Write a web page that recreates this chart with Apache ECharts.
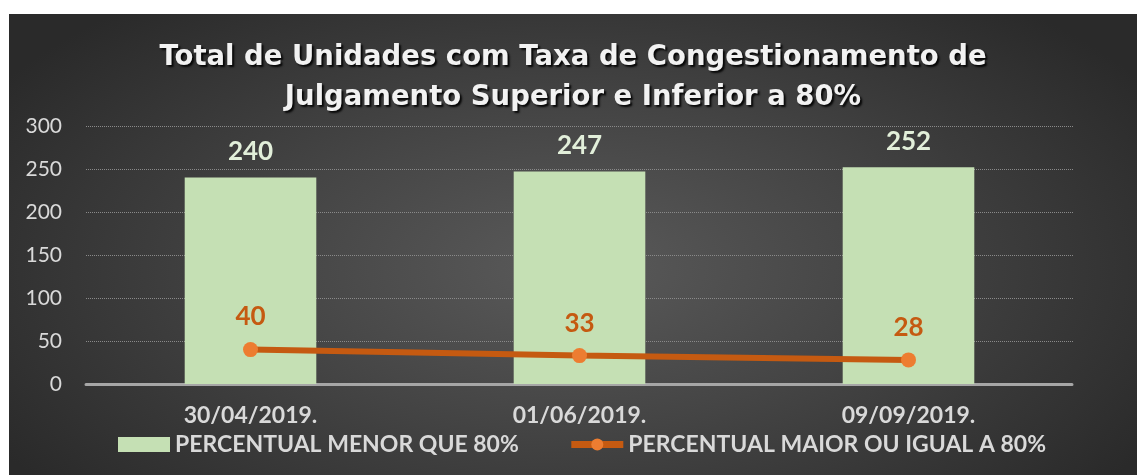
<!DOCTYPE html>
<html>
<head>
<meta charset="utf-8">
<script src="https://cdn.jsdelivr.net/npm/echarts@6/dist/echarts.min.js"></script>
<style>
  html, body { margin: 0; padding: 0; background: #fff; }
  #chart {
    position: absolute; left: 9px; top: 14px; width: 1128px; height: 461px;
    background: radial-gradient(ellipse 60% 75% at 50% 55%, #5a5a5a 0%, #454545 45%, #2a2a2a 100%);
  }
</style>
</head>
<body>
<div id="chart"></div>
<script>
const categories = ["30/04/2019.", "01/06/2019.", "09/09/2019."];
const menorQue80 = [240, 247, 252];
const maiorIgual80 = [40, 33, 28];
const yTicks = { min: 0, max: 300, interval: 50 };

const chart = echarts.init(document.getElementById("chart"));
const font = "Lato, sans-serif";

chart.setOption({
  backgroundColor: "transparent",
  title: {
    text: "Total de Unidades com Taxa de Congestionamento de\nJulgamento Superior e Inferior a 80%",
    left: "center",
    top: 19,
    textStyle: {
      color: "#f2f2f2",
      fontFamily: "'DejaVu Sans', sans-serif",
      fontWeight: "bold",
      fontSize: 27.5,
      lineHeight: 40,
      textShadowColor: "rgba(0,0,0,0.9)",
      textShadowOffsetX: 2,
      textShadowOffsetY: 2,
      textShadowBlur: 2
    }
  },
  grid: { left: 77, right: 64, top: 112, bottom: 91 },
  legend: {
    bottom: 14,
    left: 104,
    itemGap: 49,
    itemWidth: 52,
    itemHeight: 15,
    textStyle: { color: "#d9d9d9", fontFamily: font, fontWeight: "bold", fontSize: 23 },
    data: [
      { name: "PERCENTUAL MENOR QUE 80%", icon: "rect" },
      { name: "PERCENTUAL MAIOR OU IGUAL A 80%", lineStyle: { width: 7 } }
    ]
  },
  xAxis: {
    type: "category",
    data: categories,
    axisTick: { show: false },
    axisLine: { lineStyle: { color: "#a6a6a6", width: 3, type: [2, 1] } },
    axisLabel: { color: "#d9d9d9", fontFamily: font, fontWeight: "bold", fontSize: 23, margin: 20 }
  },
  yAxis: {
    type: "value",
    min: yTicks.min,
    max: yTicks.max,
    interval: yTicks.interval,
    axisLine: { show: false },
    axisTick: { show: false },
    axisLabel: { color: "#d9d9d9", fontFamily: font, fontSize: 21, margin: 24 },
    splitLine: { lineStyle: { color: "#8a8a8a", type: [1, 1], width: 1 } }
  },
  series: [
    {
      name: "PERCENTUAL MENOR QUE 80%",
      type: "bar",
      data: menorQue80,
      barWidth: "40%",
      itemStyle: { color: "#c5e0b4" },
      label: {
        show: true, position: "top", distance: 13,
        color: "#e2efda", fontFamily: font, fontWeight: "bold", fontSize: 26
      }
    },
    {
      name: "PERCENTUAL MAIOR OU IGUAL A 80%",
      type: "line",
      data: maiorIgual80,
      symbol: "circle",
      symbolSize: 15,
      lineStyle: { color: "#c55a11", width: 6 },
      itemStyle: { color: "#ed7d31" },
      label: {
        show: true, position: "top", distance: 12,
        color: "#c55a11", fontFamily: font, fontWeight: "bold", fontSize: 26
      }
    }
  ]
});
</script>
</body>
</html>
